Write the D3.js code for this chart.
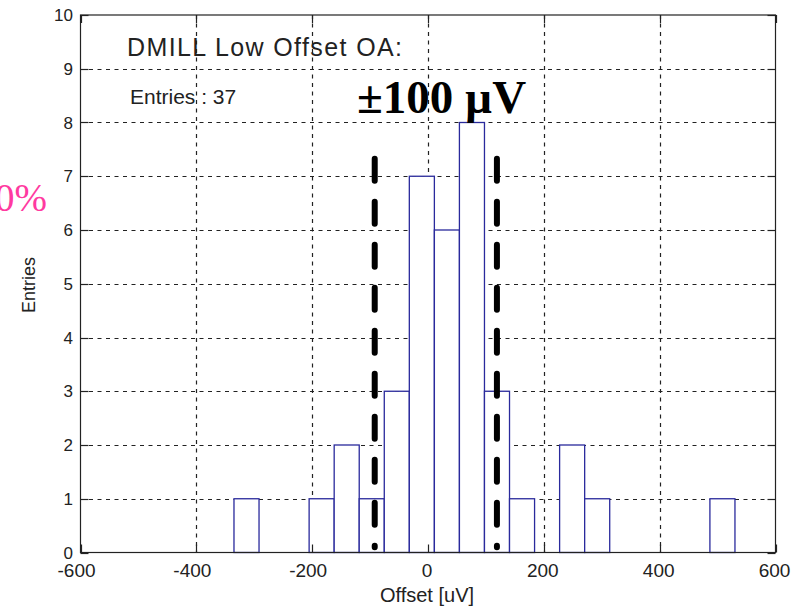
<!DOCTYPE html>
<html>
<head>
<meta charset="utf-8">
<script src="https://cdn.jsdelivr.net/npm/d3@7"></script>
<style>
  body { margin: 0; background: #fff; }
  svg { display: block; }
</style>
</head>
<body>
<script>
var width = 800,
    height = 615;

// histogram bin edges (uV) and counts per bin
var binEdges = [-335, -291.75, -248.5, -205.25, -162, -118.75, -75.5, -32.25, 11, 54.25,
                97.5, 140.75, 184, 227.25, 270.5, 313.75, 357, 400.25, 443.5, 486.75, 530];
var binCounts = [1, 0, 0, 1, 2, 1, 3, 7, 6, 8, 3, 1, 0, 2, 1, 0, 0, 0, 0, 1];

var xTicks = [-600, -400, -200, 0, 200, 400, 600];
var yTicks = [0, 1, 2, 3, 4, 5, 6, 7, 8, 9, 10];

// the two hand drawn limit markers (x in uV, y span in entries)
var markerX = [-92, 119];
var markerY = [7.38, 0.1];

var titleText = "DMILL Low Offset OA:",
    entriesText = "Entries : 37",
    limitText = "\u00b1100 \u00b5V",
    pinkText = "0%";

// plot box (window.top is reserved, so use other names)
var pLeft = 80.5, pRight = 775.5, pTop = 15, pBottom = 552.5;

var x = d3.scaleLinear().domain([-600, 600]).range([pLeft, pRight]);
var y = d3.scaleLinear().domain([0, 10]).range([pBottom, pTop]);

var svg = d3.select("body").append("svg")
    .attr("width", width)
    .attr("height", height);

// grid
svg.append("g").selectAll("line")
    .data(xTicks.slice(1, -1))
    .enter().append("line")
    .attr("x1", function (d) { return Math.round(x(d)) + 0.5; })
    .attr("x2", function (d) { return Math.round(x(d)) + 0.5; })
    .attr("y1", pTop).attr("y2", pBottom)
    .attr("stroke", "#222").attr("stroke-width", 1.2)
    .attr("stroke-dasharray", "4,4.5");

svg.append("g").selectAll("line")
    .data(yTicks.slice(1, -1))
    .enter().append("line")
    .attr("x1", pLeft).attr("x2", pRight)
    .attr("y1", function (d) { return Math.round(y(d)) + 0.5; })
    .attr("y2", function (d) { return Math.round(y(d)) + 0.5; })
    .attr("stroke", "#222").attr("stroke-width", 1.2)
    .attr("stroke-dasharray", "4,4.5");

// bars
var bins = binCounts.map(function (c, i) {
    return { x0: binEdges[i], x1: binEdges[i + 1], n: c };
});

svg.append("g").selectAll("rect")
    .data(bins)
    .enter().append("rect")
    .attr("x", function (d) { return x(d.x0); })
    .attr("width", function (d) { return x(d.x1) - x(d.x0); })
    .attr("y", function (d) { return y(d.n); })
    .attr("height", function (d) { return y(0) - y(d.n); })
    .attr("fill", "#fff")
    .attr("stroke", "#2a2a9c")
    .attr("stroke-width", 1.3);

// axes box
svg.append("rect")
    .attr("x", pLeft).attr("y", pTop)
    .attr("width", pRight - pLeft).attr("height", pBottom - pTop)
    .attr("fill", "none").attr("stroke", "#222").attr("stroke-width", 1.2);

var tick = 8;
var ticks = svg.append("g").attr("stroke", "#222").attr("stroke-width", 1.2);
xTicks.forEach(function (d) {
    var px = Math.round(x(d)) + 0.5;
    ticks.append("line").attr("x1", px).attr("x2", px).attr("y1", pBottom).attr("y2", pBottom - tick);
    ticks.append("line").attr("x1", px).attr("x2", px).attr("y1", pTop).attr("y2", pTop + tick);
});
yTicks.forEach(function (d) {
    var py = Math.round(y(d)) + 0.5;
    ticks.append("line").attr("x1", pLeft).attr("x2", pLeft + tick).attr("y1", py).attr("y2", py);
    ticks.append("line").attr("x1", pRight).attr("x2", pRight - tick).attr("y1", py).attr("y2", py);
});

// tick labels
svg.append("g").selectAll("text")
    .data(xTicks)
    .enter().append("text")
    .attr("x", function (d) { return x(d) - (d < 0 ? 4 : 1); })
    .attr("y", 577)
    .attr("text-anchor", "middle")
    .attr("font-family", "Liberation Sans, Arial, sans-serif")
    .attr("font-size", 19)
    .attr("fill", "#222")
    .text(function (d) { return d; });

svg.append("g").selectAll("text")
    .data(yTicks)
    .enter().append("text")
    .attr("x", 73)
    .attr("y", function (d) { return y(d) + 6; })
    .attr("text-anchor", "end")
    .attr("font-family", "Liberation Sans, Arial, sans-serif")
    .attr("font-size", 17)
    .attr("fill", "#222")
    .text(function (d) { return d; });

// axis labels
svg.append("text")
    .attr("x", 427).attr("y", 602)
    .attr("text-anchor", "middle")
    .attr("font-family", "Liberation Sans, Arial, sans-serif")
    .attr("font-size", 20)
    .attr("fill", "#222")
    .text("Offset [uV]");

svg.append("text")
    .attr("transform", "translate(35,285) rotate(-90)")
    .attr("text-anchor", "middle")
    .attr("font-family", "Liberation Sans, Arial, sans-serif")
    .attr("font-size", 18)
    .attr("fill", "#222")
    .text("Entries");

// in-plot texts
svg.append("text")
    .attr("x", 127).attr("y", 56)
    .attr("font-family", "Liberation Sans, Arial, sans-serif")
    .attr("font-size", 25)
    .attr("textLength", 275)
    .attr("fill", "#222")
    .text(titleText);

svg.append("text")
    .attr("x", 130).attr("y", 104)
    .attr("font-family", "Liberation Sans, Arial, sans-serif")
    .attr("font-size", 21)
    .attr("fill", "#222")
    .text(entriesText);

svg.append("text")
    .attr("x", 357).attr("y", 113)
    .attr("font-family", "Liberation Serif, Times New Roman, serif")
    .attr("font-weight", "bold")
    .attr("font-size", 47)
    .attr("fill", "#000")
    .text(limitText);

svg.append("text")
    .attr("x", 47).attr("y", 211)
    .attr("text-anchor", "end")
    .attr("font-family", "Liberation Serif, Times New Roman, serif")
    .attr("font-size", 39)
    .attr("fill", "#ff3aa0")
    .text(pinkText);

// limit markers
svg.append("g").selectAll("line")
    .data(markerX)
    .enter().append("line")
    .attr("x1", function (d) { return x(d); })
    .attr("x2", function (d) { return x(d); })
    .attr("y1", y(markerY[0]) + 3)
    .attr("y2", y(markerY[1]))
    .attr("stroke", "#000")
    .attr("stroke-width", 6)
    .attr("stroke-linecap", "round")
    .attr("stroke-dasharray", "22,21");
</script>
</body>
</html>
